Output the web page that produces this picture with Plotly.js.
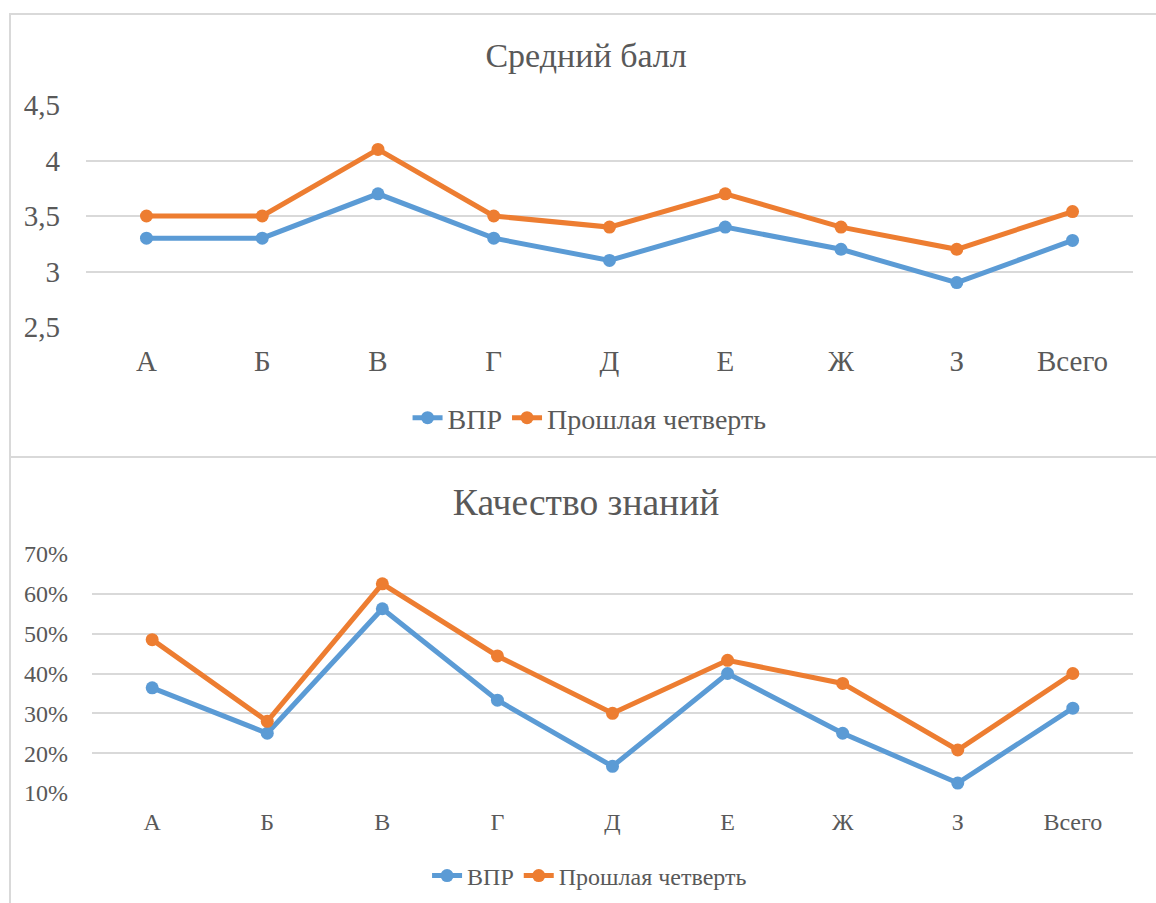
<!DOCTYPE html>
<html><head><meta charset="utf-8">
<script src="https://cdn.plot.ly/plotly-3.0.1.min.js"></script>
</head><body style="margin:0;background:#fff">
<div style="position:relative;width:1156px;height:903px;overflow:hidden">
<div id="c1" style="position:absolute;left:0;top:0"></div>
<div id="c2" style="position:absolute;left:0;top:456px"></div>
<div style="position:absolute;left:9px;top:13px;width:1160px;height:441px;border:2px solid #d9d9d9;pointer-events:none"></div>
<div style="position:absolute;left:9px;top:456px;width:1160px;height:460px;border:2px solid #d9d9d9;pointer-events:none"></div>
</div>
<script>
const categories = ['А','Б','В','Г','Д','Е','Ж','З','Всего'];
const seriesNames = ['ВПР','Прошлая четверть'];
const avgVPR = [3.3,3.3,3.7,3.3,3.1,3.4,3.2,2.9,3.28];
const avgPrev = [3.5,3.5,4.1,3.5,3.4,3.7,3.4,3.2,3.54];
const qualVPR = [0.364,0.25,0.5625,0.333,0.167,0.40,0.25,0.125,0.313];
const qualPrev = [0.485,0.28,0.625,0.444,0.30,0.433,0.375,0.208,0.40];
const titles = ['Средний балл','Качество знаний'];

const BLUE='#5B9BD5', ORANGE='#ED7D31', TXT='#595959', GRID='#d9d9d9';
const FONT='Liberation Serif';

function tr(name,y,color){
  return {x:categories,y:y,name:name,type:'scatter',mode:'lines+markers',
    line:{color:color,width:5},marker:{color:color,size:13},cliponaxis:false};
}

const layout1 = {
  width:1156,height:456,paper_bgcolor:'rgba(0,0,0,0)',plot_bgcolor:'rgba(0,0,0,0)',
  separators:', ',
  margin:{l:86,r:23,t:105,b:129},
  font:{family:FONT,color:TXT,size:29},
  title:{text:titles[0],font:{size:34},xref:'container',x:0.507,xanchor:'center',yref:'container',y:1-55/456,yanchor:'middle'},
  xaxis:{type:'category',showgrid:false,zeroline:false,showline:false,ticks:'',ticklabelstandoff:14,fixedrange:true},
  yaxis:{range:[2.5,4.5],dtick:0.5,tick0:2.5,gridcolor:GRID,gridwidth:2,zeroline:false,showline:false,ticklabelstandoff:25,fixedrange:true},
  showlegend:true,
  legend:{orientation:'h',xref:'container',x:0.51,xanchor:'center',yref:'container',y:1-418/456,yanchor:'middle',font:{size:28}},
};

const layout2 = {
  width:1156,height:447,paper_bgcolor:'rgba(0,0,0,0)',plot_bgcolor:'rgba(0,0,0,0)',
  margin:{l:92,r:23,t:98,b:110},
  font:{family:FONT,color:TXT,size:24},
  title:{text:titles[1],font:{size:37.5},xref:'container',x:0.507,xanchor:'center',yref:'container',y:1-46/447,yanchor:'middle'},
  xaxis:{type:'category',showgrid:false,zeroline:false,showline:false,ticks:'',ticklabelstandoff:12,fixedrange:true},
  yaxis:{range:[0.1,0.7],dtick:0.1,tick0:0.1,tickformat:'.0%',gridcolor:GRID,gridwidth:2,zeroline:false,showline:false,ticklabelstandoff:23,fixedrange:true},
  showlegend:true,
  legend:{orientation:'h',xref:'container',x:0.51,xanchor:'center',yref:'container',y:1-420/447,yanchor:'middle',font:{size:24}},
};

Plotly.newPlot('c1',[tr(seriesNames[0],avgVPR,BLUE),tr(seriesNames[1],avgPrev,ORANGE)],layout1,{displayModeBar:false});
Plotly.newPlot('c2',[tr(seriesNames[0],qualVPR,BLUE),tr(seriesNames[1],qualPrev,ORANGE)],layout2,{displayModeBar:false});
</script></body></html>
